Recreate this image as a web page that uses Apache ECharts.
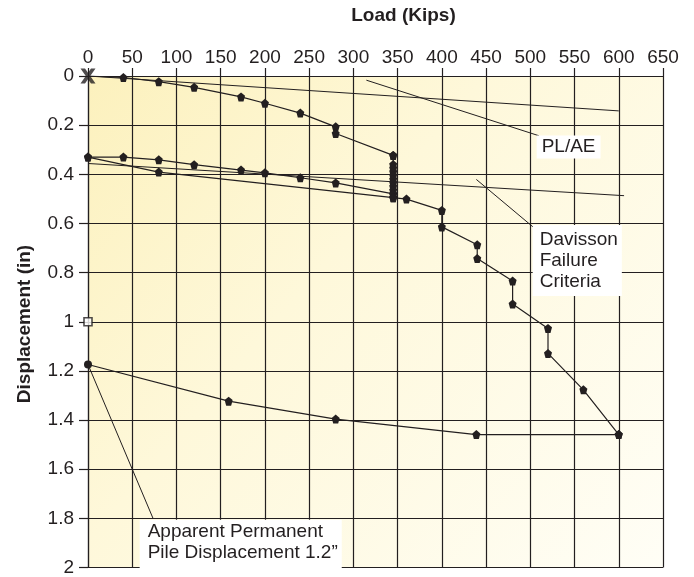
<!DOCTYPE html>
<html>
<head>
<meta charset="utf-8">
<script src="https://cdn.jsdelivr.net/npm/echarts@6/dist/echarts.min.js"></script>
<style>
html,body{margin:0;padding:0;background:#fff;}
#c{width:694px;height:577px;}
</style>
</head>
<body>
<div id="c"></div>
<script>
// ---- Data (Load in kips, displacement in inches) ----
const xTicks = [0, 650, 50];          // min, max, interval (kips)
const yTicks = [0, 2, 0.2];           // min, max, interval (in)

const initLoadKips = [0, 40, 80, 120, 173, 200, 240, 280, 280, 345];
const initLoadDisp = [0, 0.006, 0.023, 0.046, 0.085, 0.111, 0.151, 0.207, 0.234, 0.323];

const holdKips = [345, 345, 345, 345, 345, 345, 345, 345, 345, 345];
const holdDisp = [0.323, 0.36, 0.375, 0.39, 0.405, 0.42, 0.435, 0.45, 0.465, 0.48];

const unload1Kips = [345, 280, 240, 200, 173, 120, 80, 40, 0];
const unload1Disp = [0.48, 0.435, 0.414, 0.394, 0.383, 0.361, 0.341, 0.33, 0.33];

const reloadKips = [0, 80, 345];
const reloadDisp = [0.33, 0.391, 0.495];

const finalLoadKips = [345, 360, 400, 400, 440, 440, 480, 480, 520, 520, 560, 600];
const finalLoadDisp = [0.495, 0.501, 0.547, 0.614, 0.687, 0.743, 0.834, 0.928, 1.027, 1.129, 1.277, 1.459];

const finalUnloadKips = [600, 439, 280, 159, 0];
const finalUnloadDisp = [1.459, 1.459, 1.396, 1.323, 1.174];

const plaeKips = [0, 600];
const plaeDisp = [0, 0.142];

const davissonKips = [0, 606];
const davissonDisp = [0.356, 0.487];

const startPoint = [0, 0];
const openPoint = [0, 1.0];

// annotation leaders [kips, disp]
const plaeLeader = [[314.7, 0.017], [509.6, 0.243]];
const davLeader = [[439, 0.421], [504, 0.617]];
const appLeader = [[0, 1.174], [73.5, 1.8]];

// annotation texts with anchor (top-left) in data coords
const annoTexts = ['PL/AE', 'Davisson\nFailure\nCriteria', 'Apparent Permanent\nPile Displacement 1.2\u201D'];
const annoAnchors = [[507.2, 0.242], [502.7, 0.606], [58.4, 1.806]];

const titleText = 'Load (Kips)';
const yNameText = 'Displacement (in)';

// ---- helpers ----
const zip = (a, b) => a.map((v, i) => [v, b[i]]);
const INK = '#231f20';
const FONT = '"Liberation Sans", Arial, Helvetica, sans-serif';
const PENT = 'path://M0,-10 L9.5,-3.1 L5.9,8.1 L-5.9,8.1 L-9.5,-3.1 Z';
const XSYM = 'path://M0,0 L3.6,0 L6,3.4 L8.4,0 L12,0 L7.8,6 L12,12 L8.4,12 L6,8.6 L3.6,12 L0,12 L4.2,6 Z';

function dataLine(name, data, withSym) {
  return {
    name, type: 'line', data,
    symbol: withSym ? PENT : 'none',
    symbolSize: [8, 9],
    showSymbol: withSym,
    itemStyle: { color: INK },
    lineStyle: { color: INK, width: 1.2 },
    z: 5, silent: true
  };
}
function plainLine(name, data) {
  return {
    name, type: 'line', data, symbol: 'none',
    lineStyle: { color: INK, width: 1 }, z: 4, silent: true
  };
}

const initData = zip(initLoadKips, initLoadDisp).map((p, i) => i === 0 ? { value: p, symbol: 'none' } : p);
const finalUnloadData = zip(finalUnloadKips, finalUnloadDisp).map((p, i, a) =>
  i === a.length - 1 ? { value: p, symbol: 'circle', symbolSize: 8 } : p);

const chart = echarts.init(document.getElementById('c'), null, { renderer: 'canvas' });
const option = {
  animation: false,
  backgroundColor: '#ffffff',
  grid: {
    left: 88, top: 76, width: 575, height: 500,
    show: true, borderWidth: 0,
    backgroundColor: new echarts.graphic.LinearGradient(0, 0, 1, 1, [
      { offset: 0, color: '#fcf1bd' },
      { offset: 0.4, color: '#fef8da' },
      { offset: 1, color: '#fffef6' }
    ])
  },
  xAxis: {
    type: 'value', position: 'top',
    min: xTicks[0], max: xTicks[1], interval: xTicks[2],
    axisLine: { show: true, lineStyle: { color: INK, width: 1.2 } },
    axisTick: { show: true, length: 8, inside: false, lineStyle: { color: INK, width: 1.2 } },
    axisLabel: { color: INK, fontFamily: FONT, fontSize: 19, margin: 9 },
    splitLine: { show: true, lineStyle: { color: INK, width: 1.2 } }
  },
  yAxis: {
    type: 'value', inverse: true,
    min: yTicks[0], max: yTicks[1], interval: yTicks[2],
    axisLine: { show: true, lineStyle: { color: INK, width: 1.2 } },
    axisTick: { show: true, length: 9, inside: false, lineStyle: { color: INK, width: 1.2 } },
    axisLabel: { color: INK, fontFamily: FONT, fontSize: 19, margin: 14, padding: [0, 0, 8, 0] },
    splitLine: { show: true, lineStyle: { color: INK, width: 1.2 } }
  },
  series: [
    plainLine('PL/AE', zip(plaeKips, plaeDisp)),
    plainLine('Davisson', zip(davissonKips, davissonDisp)),
    plainLine('leader1', plaeLeader),
    plainLine('leader2', davLeader),
    plainLine('leader3', appLeader),
    dataLine('Initial loading', initData, true),
    dataLine('Hold', zip(holdKips, holdDisp), true),
    dataLine('Unload 1', zip(unload1Kips, unload1Disp), true),
    dataLine('Reload', zip(reloadKips, reloadDisp), true),
    dataLine('Final loading', zip(finalLoadKips, finalLoadDisp), true),
    dataLine('Final unload', finalUnloadData, true),
    {
      name: 'start', type: 'scatter', data: [startPoint],
      symbol: XSYM, symbolSize: 15, itemStyle: { color: INK }, z: 8, silent: true
    },
    {
      name: 'open', type: 'scatter', data: [openPoint],
      symbol: 'rect', symbolSize: 8,
      itemStyle: { color: '#ffffff', borderColor: INK, borderWidth: 1.6 }, z: 8, silent: true
    }
  ]
};
chart.setOption(option);

const pads = [[1, 5, 1, 5], [4, 4, 4, 7], [1, 4, 8, 8]];
const graphics = annoTexts.map((t, i) => {
  const p = chart.convertToPixel({ gridIndex: 0 }, annoAnchors[i]);
  return {
    type: 'text', x: p[0], y: p[1], z: 100,
    style: {
      text: t, font: '19px ' + FONT, fill: INK,
      backgroundColor: '#ffffff', padding: pads[i],
      lineHeight: 21, align: 'left', verticalAlign: 'top'
    }
  };
});
graphics.push({
  type: 'text', x: 403.5, y: 16, z: 100,
  style: { text: titleText, font: 'bold 19px ' + FONT, fill: INK, align: 'center', verticalAlign: 'middle' }
});
graphics.push({
  type: 'text', x: 25, y: 324, z: 100, rotation: Math.PI / 2,
  style: { text: yNameText, font: 'bold 19px ' + FONT, fill: INK, align: 'center', verticalAlign: 'middle' }
});
chart.setOption({ graphic: graphics });
</script>
</body>
</html>
